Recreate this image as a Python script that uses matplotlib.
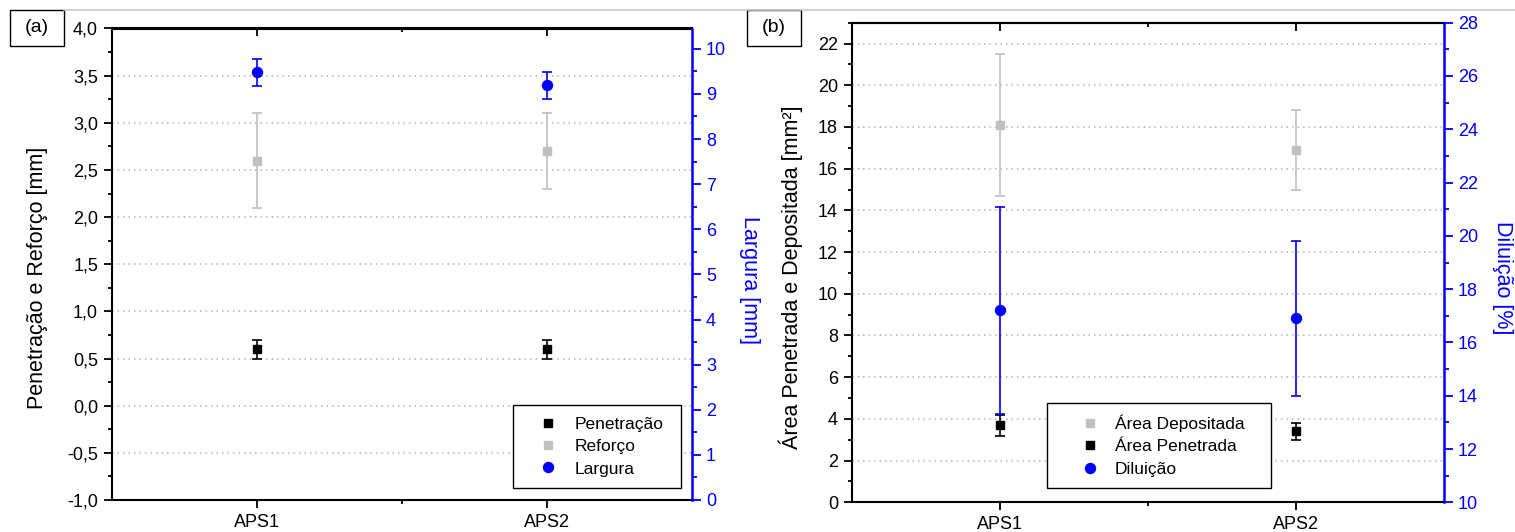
import matplotlib
matplotlib.use("Agg")
import matplotlib.pyplot as plt
from matplotlib.lines import Line2D
from matplotlib.patches import Rectangle
from matplotlib.ticker import FuncFormatter, MultipleLocator, FixedLocator

plt.rcParams['font.family'] = ['Liberation Sans', 'DejaVu Sans']

# ---------------- data ----------------
categories = ["APS1", "APS2"]

# panel (a)
penetracao = [0.60, 0.60]
penetracao_err = [0.10, 0.10]
reforco = [2.60, 2.70]
reforco_err = [0.50, 0.40]
largura = [9.48, 9.19]
largura_err = [0.30, 0.30]

# panel (b)
area_depositada = [18.1, 16.9]
area_depositada_err = [3.4, 1.9]
area_penetrada = [3.7, 3.4]
area_penetrada_err = [0.5, 0.4]
diluicao = [17.2, 16.9]
diluicao_err = [3.9, 2.9]

BLUE = "#0000FF"
GRAY = "#C0C0C0"
BLACK = "#000000"
GRID = "#B4B4B4"
TICK_FS = 13
LABEL_FS = 15.5
LEG_FS = 12.5
W, H = 1515, 532

fig = plt.figure(figsize=(W / 100, H / 100), dpi=100)

comma = FuncFormatter(lambda v, p: f"{v:.1f}".replace(".", ","))


def fx(px):
    return px / W


def fy(py):
    return 1 - py / H


def style_axes(ax, ax2, ylim, y_major, y_minor, ylim2, y2_major, y2_minor,
               xpad=4):
    x = list(range(1, len(categories) + 1))
    ax.set_xlim(0.5, len(categories) + 0.5)
    ax.set_xticks(x)
    ax.set_xticklabels(categories, fontsize=TICK_FS)
    ax.xaxis.set_minor_locator(FixedLocator([1.5]))
    ax.set_ylim(*ylim)
    ax.yaxis.set_major_locator(MultipleLocator(y_major))
    ax.yaxis.set_minor_locator(MultipleLocator(y_minor))
    ax.tick_params(axis='both', which='major', direction='out', length=6,
                   width=1.3, labelsize=TICK_FS, pad=4, colors=BLACK)
    ax.tick_params(axis='x', which='major', pad=xpad)
    ax.tick_params(axis='both', which='minor', direction='out', length=3,
                   width=1.3)
    ax.tick_params(axis='x', which='both', top=False)
    for s in ['left', 'bottom', 'top']:
        ax.spines[s].set_linewidth(1.5)
        ax.spines[s].set_color(BLACK)
    ax.spines['right'].set_visible(False)
    ax.yaxis.grid(True, which='major', color=GRID, linestyle=(0, (1, 2.6)),
                  linewidth=1.1)
    ax.set_axisbelow(True)

    # top axis ticks (inward)
    sec = ax.secondary_xaxis('top')
    sec.set_xticks(x)
    sec.xaxis.set_minor_locator(FixedLocator([1.5]))
    sec.tick_params(which='major', direction='in', length=6, width=1.3,
                    labeltop=False)
    sec.tick_params(which='minor', direction='in', length=3, width=1.3)
    sec.spines['top'].set_linewidth(1.5)

    ax2.set_ylim(*ylim2)
    ax2.yaxis.set_major_locator(MultipleLocator(y2_major))
    ax2.yaxis.set_minor_locator(MultipleLocator(y2_minor))
    ax2.tick_params(axis='y', which='major', direction='out', length=6.5,
                    width=1.3, labelsize=TICK_FS, pad=3.6, colors=BLUE)
    ax2.tick_params(axis='y', which='minor', direction='out', length=3.5,
                    width=1.3, colors=BLUE)
    for s in ['left', 'bottom', 'top']:
        ax2.spines[s].set_visible(False)
    ax2.spines['right'].set_color(BLUE)
    ax2.spines['right'].set_linewidth(1.8)


def boxed_legend(ax, handles, labels, box, marker_x, text_x, mid_row_y):
    """box = (x0, y0, x1, y1) in pixels; legend drawn inside."""
    x0, y0, x1, y1 = box
    ax.add_patch(Rectangle((fx(x0), fy(y1)), fx(x1 - x0), (y1 - y0) / H,
                           transform=fig.transFigure, facecolor='white',
                           edgecolor=BLACK, linewidth=1.0, zorder=4,
                           clip_on=False))
    fs_px = LEG_FS * 100 / 72
    hl = 1.0
    anchor_x = marker_x - hl * fs_px / 2
    htp = (text_x - (anchor_x + hl * fs_px)) / fs_px
    leg = ax.legend(handles, labels, loc='center left',
                    bbox_to_anchor=(fx(anchor_x), fy(mid_row_y)),
                    bbox_transform=fig.transFigure, fontsize=LEG_FS,
                    frameon=False, borderpad=0, borderaxespad=0,
                    handlelength=hl, handletextpad=htp, labelspacing=0.42)
    leg.set_zorder(6)
    return leg


eb_kw = dict(linestyle='none', capsize=3.6, elinewidth=1.2, capthick=1.2)
SQ = 6.3
CI = 7.2

# ---------------- panel (a) ----------------
axA = fig.add_axes([fx(112), fy(500), fx(692 - 112), (500 - 28.5) / H])
axA2 = axA.twinx()
style_axes(axA, axA2, (-1.0, 4.0), 0.5, 0.25, (0, 10.45), 1, 0.5)
axA.yaxis.set_major_formatter(comma)
xa = list(range(1, len(categories) + 1))

axA.errorbar(xa, reforco, yerr=reforco_err, fmt='s', color=GRAY,
             ecolor=GRAY, markersize=SQ, **eb_kw)
axA.errorbar(xa, penetracao, yerr=penetracao_err, fmt='s', color=BLACK,
             ecolor=BLACK, markersize=SQ, **eb_kw)
axA2.errorbar(xa, largura, yerr=largura_err, fmt='o', color=BLUE,
              ecolor=BLUE, markersize=CI, **eb_kw)

axA.set_ylabel("Penetração e Reforço [mm]", fontsize=LABEL_FS)
axA.yaxis.set_label_coords(-0.110, 0.471)
axA2.set_ylabel("Largura [mm]", fontsize=LABEL_FS, color=BLUE,
                rotation=270, va='bottom')
axA2.yaxis.set_label_coords(1.081, 0.467)

hA = [Line2D([], [], linestyle='none', marker='s', color=BLACK, markersize=SQ),
      Line2D([], [], linestyle='none', marker='s', color=GRAY, markersize=SQ),
      Line2D([], [], linestyle='none', marker='o', color=BLUE, markersize=CI)]
boxed_legend(axA2, hA, ["Penetração", "Reforço", "Largura"],
             (513, 405, 681, 488), 548, 575, 446.5)

# ---------------- panel (b) ----------------
axB = fig.add_axes([fx(852), fy(502.3), fx(1444 - 852), (502.3 - 22.7) / H])
axB2 = axB.twinx()
style_axes(axB, axB2, (0, 23), 2, 1, (10, 28), 2, 1, xpad=4)
xb = list(range(1, len(categories) + 1))

axB.errorbar(xb, area_depositada, yerr=area_depositada_err, fmt='s',
             color=GRAY, ecolor=GRAY, markersize=SQ, **eb_kw)
axB.errorbar(xb, area_penetrada, yerr=area_penetrada_err, fmt='s',
             color=BLACK, ecolor=BLACK, markersize=SQ, **eb_kw)
axB2.errorbar(xb, diluicao, yerr=diluicao_err, fmt='o', color=BLUE,
              ecolor=BLUE, markersize=CI, **eb_kw)

axB.set_ylabel("Área Penetrada e Depositada [mm²]", fontsize=LABEL_FS)
axB.yaxis.set_label_coords(-0.083, 0.469)
axB2.set_ylabel("Diluição [%]", fontsize=LABEL_FS, color=BLUE,
                rotation=270, va='bottom')
axB2.yaxis.set_label_coords(1.081, 0.469)

hB = [Line2D([], [], linestyle='none', marker='s', color=GRAY, markersize=SQ),
      Line2D([], [], linestyle='none', marker='s', color=BLACK, markersize=SQ),
      Line2D([], [], linestyle='none', marker='o', color=BLUE, markersize=CI)]
boxed_legend(axB2, hB, ["Área Depositada", "Área Penetrada", "Diluição"],
             (1047, 403, 1271, 488), 1090, 1115, 445.5)

# ---------------- panel tags & top rule ----------------
fig.add_artist(Line2D([fx(64), 1.0], [fy(10), fy(10)],
                      transform=fig.transFigure, color="#C8C8C8",
                      linewidth=1.2))
for (x0, x1, tag) in [(10, 64, "(a)"), (747, 801, "(b)")]:
    y0, y1 = 10, 46
    fig.add_artist(Rectangle((fx(x0), fy(y1)), fx(x1 - x0), (y1 - y0) / H,
                             transform=fig.transFigure, facecolor='white',
                             edgecolor=BLACK, linewidth=1.0))
    fig.text(fx((x0 + x1) / 2), fy((y0 + y1) / 2), tag,
             ha='center', va='center', fontsize=14)

fig.savefig("out.png", dpi=100)
